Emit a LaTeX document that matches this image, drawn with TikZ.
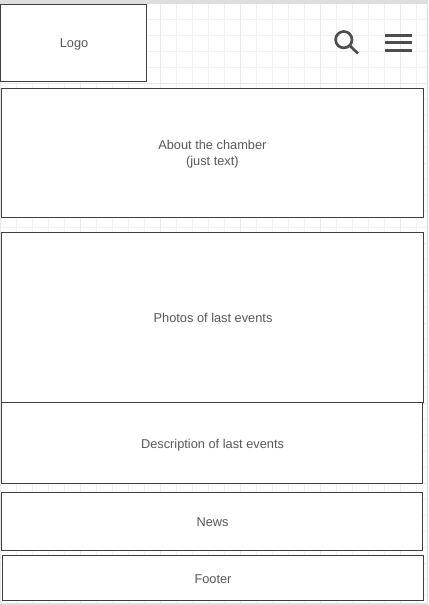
\documentclass[tikz,border=0pt]{standalone}
\usepackage{fontspec}
\usepackage{xcolor}
\setmainfont{Liberation Sans}
\definecolor{ink}{HTML}{3F3F3F}
\definecolor{lbl}{HTML}{595959}
\definecolor{gridmin}{HTML}{F1F1F1}
\definecolor{gridmaj}{HTML}{E9E9E9}
\definecolor{edge}{HTML}{DEDEDE}
\begin{document}
\begin{tikzpicture}[x=0.75pt, y=-0.75pt,
					block/.style = {shape=rectangle, draw=ink, fill=white, line width=0.75pt,
						inner sep=0pt, outer sep=0pt},
					caption/.style = {inner sep=0pt, align=center, text=lbl, yshift=-0.9pt, xshift=0.4pt,
						font=\fontsize{9.6pt}{12pt}\selectfont},
					icon/.style = {draw=ink!92, line width=2.25pt},
					lens/.style = {draw=ink!92, line width=2pt}]
	\useasboundingbox (0,0) rectangle (428,605);
	\fill[white] (0,0) rectangle (428,605);
	% background grid
	\foreach \gx in {0,16,...,416}
		\draw[gridmin, line width=0.75pt] (\gx+0.5,4) -- (\gx+0.5,603);
	\foreach \gy in {19,35,...,595}
		\draw[gridmin, line width=0.75pt] (0,\gy+0.5) -- (427,\gy+0.5);
	\foreach \gx in {0,80,...,400}
		\draw[gridmaj, line width=0.75pt] (\gx+0.5,4) -- (\gx+0.5,603);
	\foreach \gy in {83,163,...,563}
		\draw[gridmaj, line width=0.75pt] (0,\gy+0.5) -- (427,\gy+0.5);
	% page edges
	\fill[edge] (0,0) rectangle (428,4);
	\fill[edge] (426.5,0) rectangle (428,605);
	\fill[edge] (0,603) rectangle (428,605);
	% blocks
	\node[block, minimum width=109.5pt, minimum height=57.75pt, label={[caption]center:Logo}] (logo) at (73.5,43) {};
	\node[block, minimum width=316.5pt, minimum height=96.75pt, label={[caption, xshift=-0.5pt]center:About the chamber \\ (just text)}] (about) at (212.5,153) {};
	\node[block, minimum width=316.5pt, minimum height=127.5pt, label={[caption, yshift=0.6pt]center:Photos of last events}] (photos) at (212.5,317.5) {};
	\node[block, minimum width=315.75pt, minimum height=60.75pt, label={[caption, yshift=-0.6pt]center:Description of last events}] (description) at (212,443) {};
	\node[block, minimum width=315.75pt, minimum height=43.5pt, label={[caption, yshift=0.6pt]center:News}] (news) at (212,521.5) {};
	\node[block, minimum width=315.75pt, minimum height=33.75pt, label={[caption, xshift=-0.4pt]center:Footer}] (footer) at (213,578) {};
	% search and menu icons
	\draw[lens] (343.8,39.7) circle [radius=8.2];
	\draw[lens] (349.8,45.7) -- (358,53.5);
	\foreach \my in {35.5,42.7,50.2}
		\draw[icon] (385,\my) -- (412,\my);
\end{tikzpicture}
\end{document}
